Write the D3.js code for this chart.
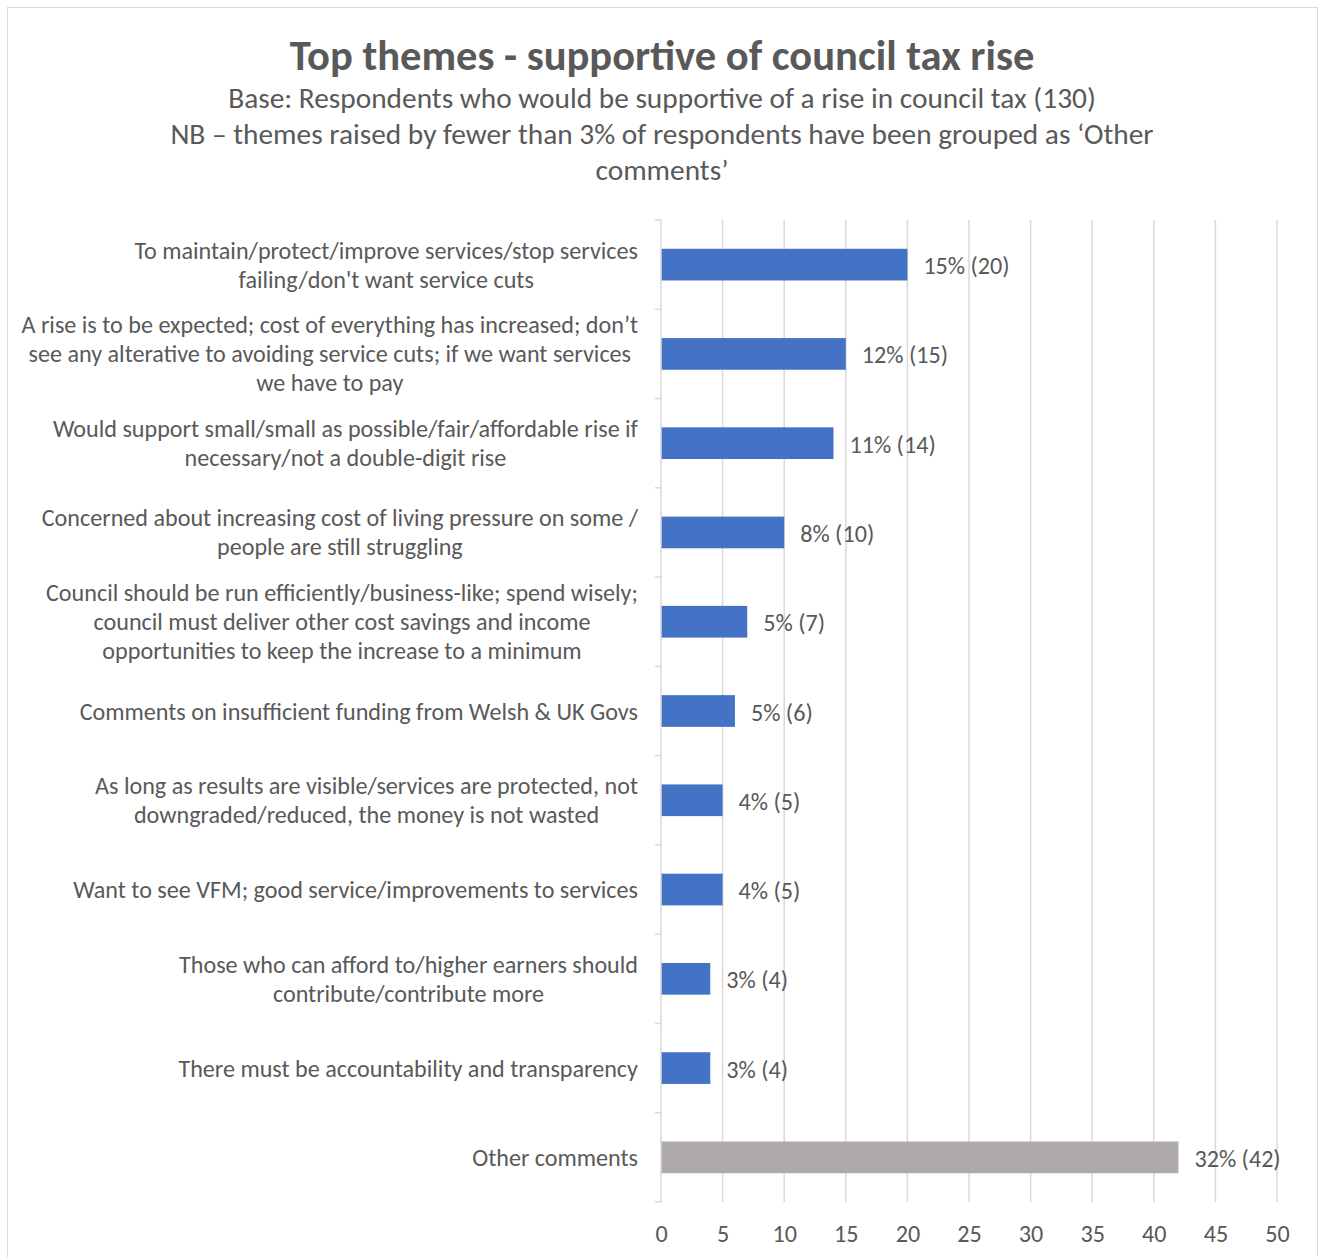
<!DOCTYPE html>
<html>
<head>
<meta charset="utf-8">
<script src="https://cdn.jsdelivr.net/npm/d3@7"></script>
<style>
  html, body { margin: 0; padding: 0; background: #fff; }
  svg { display: block; }
  text { font-family: Carlito, Calibri, Lato, "Open Sans", sans-serif; }
</style>
</head>
<body>
<svg id="chart" width="1325" height="1257"></svg>
<script>
// ---- Data ----
const categories = [
  ["To maintain/protect/improve services/stop services", "failing/don't want service cuts"],
  ["A rise is to be expected; cost of everything has increased; don\u2019t", "see any alterative to avoiding service cuts; if we want services", "we have to pay"],
  ["Would support small/small as possible/fair/affordable rise if", "necessary/not a double-digit rise"],
  ["Concerned about increasing cost of living pressure on some /", "people are still struggling"],
  ["Council should be run efficiently/business-like; spend wisely;", "council must deliver other cost savings and income", "opportunities to keep the increase to a minimum"],
  ["Comments on insufficient funding from Welsh & UK Govs"],
  ["As long as results are visible/services are protected, not", "downgraded/reduced, the money is not wasted"],
  ["Want to see VFM; good service/improvements to services"],
  ["Those who can afford to/higher earners should", "contribute/contribute more"],
  ["There must be accountability and transparency"],
  ["Other comments"]
];
const counts = [20, 15, 14, 10, 7, 6, 5, 5, 4, 4, 42];
const percents = [15, 12, 11, 8, 5, 5, 4, 4, 3, 3, 32];
const isOther = [false, false, false, false, false, false, false, false, false, false, true];
const xTicks = [0, 5, 10, 15, 20, 25, 30, 35, 40, 45, 50];
const titleText = "Top themes - supportive of council tax rise";
const subtitleLines = [
  "Base: Respondents who would be supportive of a rise in council tax (130)",
  "NB \u2013 themes raised by fewer than 3% of respondents have been grouped as \u2018Other",
  "comments\u2019"
];

// ---- Layout ----
const svg = d3.select("#chart");
const W = 1325, H = 1257;
const plot = { left: 661, right: 1277, top: 220, bottom: 1202 };
const textColor = "#595959";

// chart border
svg.append("rect").attr("x", 7.5).attr("y", 7.5).attr("width", 1310).attr("height", 1262)
  .attr("fill", "#fff").attr("stroke", "#D9D9D9").attr("stroke-width", 1);

function fitSize(sel, targetW) {
  const w = sel.node().getComputedTextLength();
  const fs = parseFloat(sel.attr("font-size"));
  sel.attr("font-size", fs * targetW / w);
}

// Title
const title = svg.append("text").attr("x", 662).attr("y", 55).attr("text-anchor", "middle")
  .attr("dominant-baseline", "central").attr("font-size", 36).attr("font-weight", "bold")
  .attr("fill", textColor).text(titleText);
fitSize(title, 745);

// Subtitle
const sub0 = svg.append("text").attr("font-size", 24).text(subtitleLines[0]);
fitSize(sub0, 868);
const subFs = parseFloat(sub0.attr("font-size"));
sub0.remove();
subtitleLines.forEach((t, i) => {
  svg.append("text").attr("x", 662).attr("y", 98 + i * 36).attr("text-anchor", "middle")
    .attr("dominant-baseline", "central").attr("font-size", subFs).attr("fill", textColor).text(t);
});

// Scales
const x = d3.scaleLinear().domain([0, 50]).range([plot.left, plot.right]);
const y = d3.scaleBand().domain(d3.range(categories.length)).range([plot.top, plot.bottom]).padding(0);
const barH = y.bandwidth() * 0.355;

// Gridlines
svg.append("g").selectAll("line").data(xTicks.filter(d => d > 0)).join("line")
  .attr("x1", d => x(d)).attr("x2", d => x(d)).attr("y1", plot.top).attr("y2", plot.bottom)
  .attr("stroke", "#D9D9D9").attr("stroke-width", 1.5);

// Bars
svg.append("g").selectAll("rect").data(counts).join("rect")
  .attr("x", x(0)).attr("y", (d, i) => y(i) + y.bandwidth() / 2 - barH / 2)
  .attr("width", d => x(d) - x(0)).attr("height", barH)
  .attr("fill", (d, i) => isOther[i] ? "#AEAAAA" : "#4472C4");

// Y axis line and ticks
const yAxis = svg.append("g");
yAxis.append("line").attr("x1", plot.left).attr("x2", plot.left).attr("y1", plot.top).attr("y2", plot.bottom)
  .attr("stroke", "#D9D9D9").attr("stroke-width", 1.5);
const bounds = d3.range(categories.length + 1).map(i => i < categories.length ? y(i) : plot.bottom);
yAxis.selectAll("line.tick").data(bounds).join("line").attr("class", "tick")
  .attr("x1", plot.left - 6).attr("x2", plot.left).attr("y1", d => d).attr("y2", d => d)
  .attr("stroke", "#D9D9D9").attr("stroke-width", 1.5);

// Category labels
const probe = svg.append("text").attr("font-size", 20).text(categories[0][0]);
fitSize(probe, 504);
const catFs = parseFloat(probe.attr("font-size"));
probe.remove();
const lineH = 29;
const labelRight = 638;
categories.forEach((lines, i) => {
  const g = svg.append("g");
  const cy = y(i) + y.bandwidth() / 2;
  const texts = lines.map((t, j) => g.append("text").attr("font-size", catFs).attr("fill", textColor)
    .attr("text-anchor", "middle").attr("dominant-baseline", "central")
    .attr("y", cy + (j - (lines.length - 1) / 2) * lineH).text(t));
  const maxW = d3.max(texts, t => t.node().getComputedTextLength());
  texts.forEach(t => t.attr("x", labelRight - maxW / 2));
});

// Data labels
svg.append("g").selectAll("text").data(counts).join("text")
  .attr("x", d => x(d) + 16).attr("y", (d, i) => y(i) + y.bandwidth() / 2 + 1)
  .attr("dominant-baseline", "central").attr("font-size", catFs).attr("fill", textColor)
  .text((d, i) => `${percents[i]}% (${d})`);

// X axis tick labels
const xAxis = d3.axisBottom(x).tickValues(xTicks).tickSize(0).tickPadding(0);
const xg = svg.append("g").attr("transform", `translate(0, ${plot.bottom})`).call(xAxis);
xg.select(".domain").remove();
xg.selectAll("text").attr("font-size", catFs).attr("fill", textColor)
  .attr("font-family", "Carlito, Calibri, Lato, 'Open Sans', sans-serif")
  .attr("dy", null).attr("y", 31).attr("dominant-baseline", "central");
</script>
</body>
</html>
